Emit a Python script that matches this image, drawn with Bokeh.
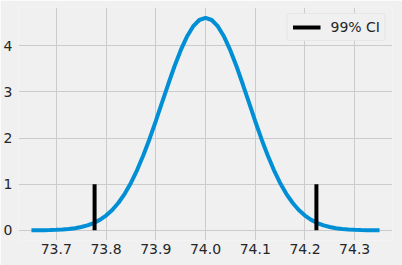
from bokeh.plotting import figure
from bokeh.models import Range1d, Legend, LegendItem
from bokeh.embed import file_html
from bokeh.resources import INLINE

# Density curve
x_vals = [73.65, 73.6625, 73.675, 73.6875, 73.7, 73.7125, 73.725, 73.7375, 73.75, 73.7625,
          73.775, 73.7875, 73.8, 73.8125, 73.825, 73.8375, 73.85, 73.8625, 73.875, 73.8875,
          73.9, 73.9125, 73.925, 73.9375, 73.95, 73.9625, 73.975, 73.9875, 74.0,
          74.0125, 74.025, 74.0375, 74.05, 74.0625, 74.075, 74.0875, 74.1, 74.1125,
          74.125, 74.1375, 74.15, 74.1625, 74.175, 74.1875, 74.2, 74.2125, 74.225, 74.2375,
          74.25, 74.2625, 74.275, 74.2875, 74.3, 74.3125, 74.325, 74.3375, 74.35]
y_vals = [0.0013, 0.0023, 0.0040, 0.0069, 0.0114, 0.0186, 0.0298, 0.0466, 0.0714, 0.107,
          0.158, 0.227, 0.320, 0.442, 0.598, 0.792, 1.028, 1.306, 1.626, 1.981,
          2.365, 2.766, 3.166, 3.551, 3.900, 4.195, 4.419, 4.559, 4.607,
          4.559, 4.419, 4.195, 3.900, 3.551, 3.166, 2.766, 2.365, 1.981,
          1.626, 1.306, 1.028, 0.792, 0.598, 0.442, 0.320, 0.227, 0.158, 0.107,
          0.0714, 0.0466, 0.0298, 0.0186, 0.0114, 0.0069, 0.0040, 0.0023, 0.0013]

# 99% confidence interval bounds
ci_bounds = [73.777, 74.223]
ci_height = [1.0, 1.0]
ci_label = "99% CI"

x_ticks = [73.7, 73.8, 73.9, 74.0, 74.1, 74.2, 74.3]
y_ticks = [0, 1, 2, 3, 4]

BG = "#f0f0f0"
GRID = "#cbcbcb"

p = figure(width=402, height=265, output_backend="svg", toolbar_location=None,
           x_range=Range1d(73.624, 74.376), y_range=Range1d(-0.22, 4.83),
           background_fill_color=BG, border_fill_color=BG,
           min_border_left=0, min_border_right=10, min_border_top=7, min_border_bottom=25)
p.outline_line_color = None

curve = p.line(x_vals, y_vals, line_color="#008fd5", line_width=4)
ci = p.segment(x0=ci_bounds, y0=[0, 0], x1=ci_bounds, y1=ci_height,
               line_color="black", line_width=4)

for ax in (p.xaxis, p.yaxis):
    ax.axis_line_color = None
    ax.major_tick_line_color = None
    ax.minor_tick_line_color = None
    ax.major_tick_out = 0
    ax.major_tick_in = 0
    ax.minor_tick_out = 0
    ax.minor_tick_in = 0
    ax.axis_label_standoff = 0
    ax.major_label_text_font = "DejaVu Sans"
    ax.major_label_text_font_size = "14px"
    ax.major_label_text_color = "#262626"
p.xaxis.ticker = x_ticks
p.yaxis.ticker = y_ticks
p.xaxis.major_label_overrides = {v: f"{v:.1f}" for v in x_ticks}
p.xaxis.major_label_standoff = 3
p.yaxis.major_label_standoff = 6

p.grid.grid_line_color = GRID
p.grid.grid_line_width = 1

legend = Legend(items=[LegendItem(label=ci_label, renderers=[ci])],
                location="top_right", margin=6,
                background_fill_color=BG, background_fill_alpha=1,
                border_line_color="#dcdcdc", border_line_width=1,
                label_text_font="DejaVu Sans", label_text_font_size="14px",
                label_text_color="#262626",
                glyph_width=28, glyph_height=14, label_standoff=10,
                padding=5, spacing=0, border_radius=3)
p.add_layout(legend)

open("out.html", "w").write(file_html(p, INLINE))
